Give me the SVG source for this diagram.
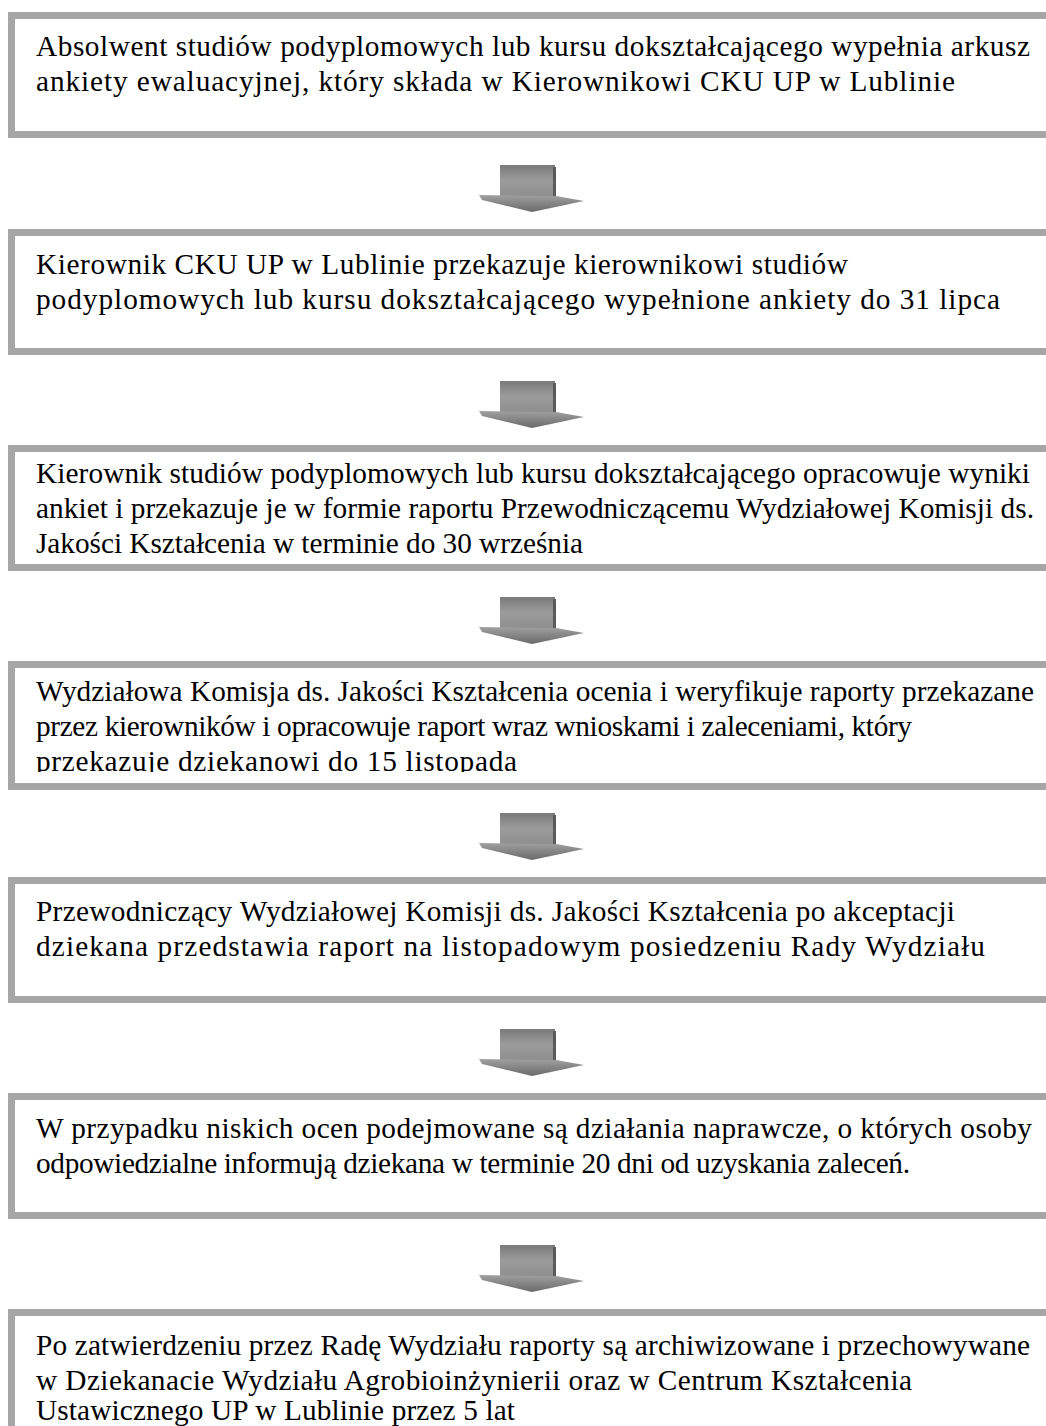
<svg xmlns="http://www.w3.org/2000/svg" width="1046" height="1426" viewBox="0 0 1046 1426">
<style>
.box{fill:#fff;stroke:#a6a6a6;stroke-width:7}
.t{font-family:"Liberation Serif","Times New Roman",serif;font-size:29.3px;fill:#000}
</style>
<defs>
<linearGradient id="sg" x1="0" y1="0" x2="0" y2="1">
<stop offset="0" stop-color="#7a7a7a"/><stop offset="0.5" stop-color="#9c9c9c"/><stop offset="1" stop-color="#8e8e8e"/>
</linearGradient>
<linearGradient id="hg" x1="0" y1="0" x2="0" y2="1">
<stop offset="0" stop-color="#a0a0a0"/><stop offset="1" stop-color="#6a6a6a"/>
</linearGradient>
<g id="arrow">
<rect x="500" y="0" width="55" height="32" fill="url(#sg)"/>
<rect x="553" y="2" width="3" height="30" fill="#5a5a5a"/>
<polygon points="479,30 556,31 584,36 532,47 482,35" fill="url(#hg)"/>
</g>
<clipPath id="c4"><rect x="0" y="661" width="1046" height="111"/></clipPath>
</defs>
<rect width="1046" height="1426" fill="#fff"/>
<g id="connectors">
<use href="#arrow" y="165"/>
<use href="#arrow" y="381"/>
<use href="#arrow" y="597"/>
<use href="#arrow" y="813"/>
<use href="#arrow" y="1029"/>
<use href="#arrow" y="1245"/>
</g>
<g id="n1">
<rect class="box" x="11.5" y="15.5" width="1100" height="119"/>
<text class="t" x="36" y="56" textLength="994" lengthAdjust="spacing">Absolwent studiów podyplomowych lub kursu dokształcającego wypełnia arkusz</text>
<text class="t" x="36" y="91" textLength="919" lengthAdjust="spacing">ankiety ewaluacyjnej, który składa w Kierownikowi CKU UP w Lublinie</text>
</g>
<g id="n2">
<rect class="box" x="11.5" y="232.5" width="1100" height="119"/>
<text class="t" x="36" y="274" textLength="812" lengthAdjust="spacing">Kierownik CKU UP w Lublinie przekazuje kierownikowi studiów</text>
<text class="t" x="36" y="309" textLength="964" lengthAdjust="spacing">podyplomowych lub kursu dokształcającego wypełnione ankiety do 31 lipca</text>
</g>
<g id="n3">
<rect class="box" x="11.5" y="448.5" width="1100" height="119"/>
<text class="t" x="36" y="483" textLength="994" lengthAdjust="spacing">Kierownik studiów podyplomowych lub kursu dokształcającego opracowuje wyniki</text>
<text class="t" x="36" y="518" textLength="998" lengthAdjust="spacing">ankiet i przekazuje je w formie raportu Przewodniczącemu Wydziałowej Komisji ds.</text>
<text class="t" x="36" y="553" textLength="547" lengthAdjust="spacing">Jakości Kształcenia w terminie do 30 września</text>
</g>
<g id="n4">
<rect class="box" x="11.5" y="664.5" width="1100" height="122"/>
<g clip-path="url(#c4)">
<text class="t" x="36" y="701" textLength="998" lengthAdjust="spacing">Wydziałowa Komisja ds. Jakości Kształcenia ocenia i weryfikuje raporty przekazane</text>
<text class="t" x="36" y="736" textLength="876" lengthAdjust="spacing">przez kierowników i opracowuje raport wraz wnioskami i zaleceniami, który</text>
<text class="t" x="36" y="771" textLength="481" lengthAdjust="spacing">przekazuje dziekanowi do 15 listopada</text>
</g>
</g>
<g id="n5">
<rect class="box" x="11.5" y="880.5" width="1100" height="119"/>
<text class="t" x="36" y="921" textLength="919" lengthAdjust="spacing">Przewodniczący Wydziałowej Komisji ds. Jakości Kształcenia po akceptacji</text>
<text class="t" x="36" y="956" textLength="949" lengthAdjust="spacing">dziekana przedstawia raport na listopadowym posiedzeniu Rady Wydziału</text>
</g>
<g id="n6">
<rect class="box" x="11.5" y="1096.5" width="1100" height="119"/>
<text class="t" x="36" y="1138" textLength="996" lengthAdjust="spacing">W przypadku niskich ocen podejmowane są działania naprawcze, o których osoby</text>
<text class="t" x="36" y="1173" textLength="874" lengthAdjust="spacing">odpowiedzialne informują dziekana w terminie 20 dni od uzyskania zaleceń.</text>
</g>
<g id="n7">
<rect class="box" x="11.5" y="1312.5" width="1100" height="200"/>
<text class="t" x="36" y="1355" textLength="994" lengthAdjust="spacing">Po zatwierdzeniu przez Radę Wydziału raporty są archiwizowane i przechowywane</text>
<text class="t" x="36" y="1390" textLength="876" lengthAdjust="spacing">w Dziekanacie Wydziału Agrobioinżynierii oraz w Centrum Kształcenia</text>
<text class="t" x="36" y="1420" textLength="479" lengthAdjust="spacing">Ustawicznego UP w Lublinie przez 5 lat</text>
</g>
</svg>
